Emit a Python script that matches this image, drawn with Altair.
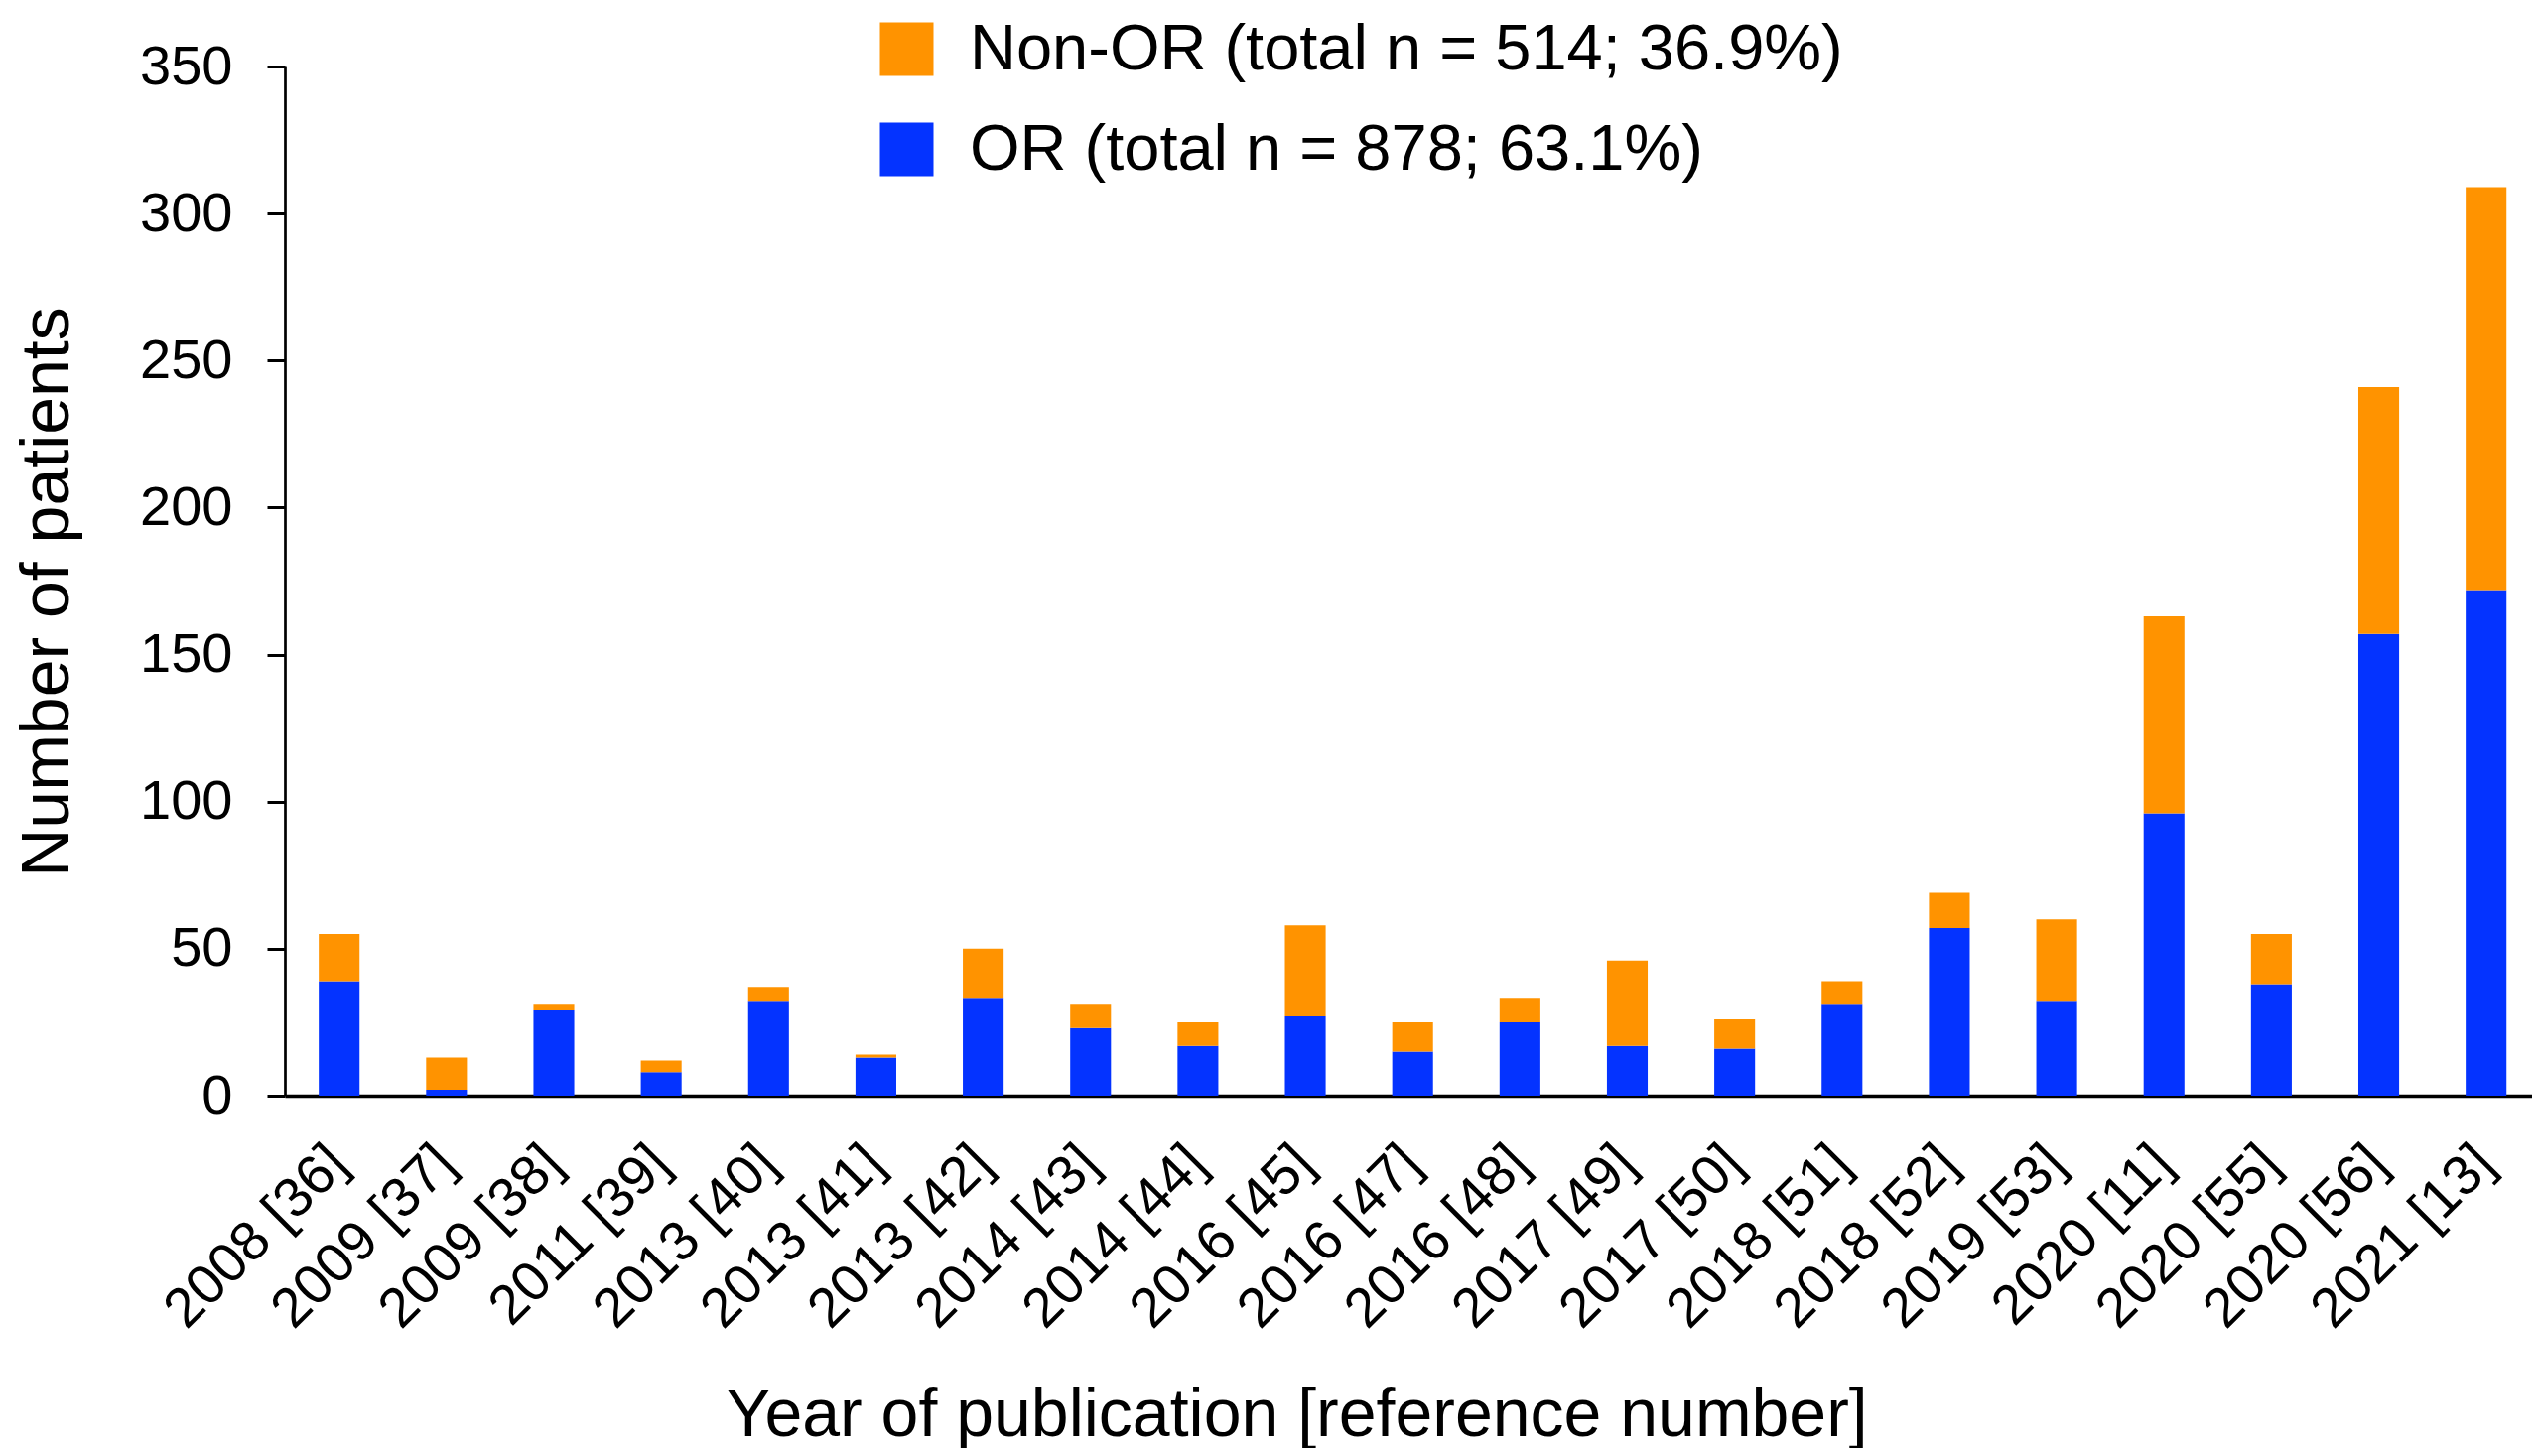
import altair as alt
import pandas as pd

labels = ["2008 [36]", "2009 [37]", "2009 [38]", "2011 [39]", "2013 [40]", "2013 [41]",
          "2013 [42]", "2014 [43]", "2014 [44]", "2016 [45]", "2016 [47]", "2016 [48]",
          "2017 [49]", "2017 [50]", "2018 [51]", "2018 [52]", "2019 [53]", "2020 [11]",
          "2020 [55]", "2020 [56]", "2021 [13]"]
or_vals = [39, 2, 29, 8, 32, 13, 33, 23, 17, 27, 15, 25, 17, 16, 31, 57, 32, 96, 38, 157, 172]
non_or_vals = [16, 11, 2, 4, 5, 1, 17, 8, 8, 31, 10, 8, 29, 10, 8, 12, 28, 67, 17, 84, 137]

series_names = ["Non-OR (total n = 514; 36.9%)", "OR (total n = 878; 63.1%)"]
series_colors = ["#FF9300", "#0433FF"]
y_ticks = [0, 50, 100, 150, 200, 250, 300, 350]

rows = []
for lab, o, n in zip(labels, or_vals, non_or_vals):
    rows.append({"label": lab, "series": series_names[1], "value": o, "ord": 0})
    rows.append({"label": lab, "series": series_names[0], "value": n, "ord": 1})
df = pd.DataFrame(rows)

FONT = "Liberation Sans"

chart = alt.Chart(df).mark_bar().encode(
    x=alt.X("label:N", sort=labels,
            scale=alt.Scale(paddingInner=0.62, paddingOuter=0.277, align=0.57),
            axis=alt.Axis(title="Year of publication [reference number]",
                          labelAngle=-45, ticks=False, labelPadding=40, labelOffset=-20,
                          domainWidth=3.3, domainColor="black",
                          labelFontSize=56, labelColor="black", labelFont=FONT,
                          labelOverlap=False, labelLimit=1000,
                          titleFont=FONT, titleFontSize=68, titleFontWeight="normal",
                          titleColor="black", titleX=1019, titleY=342,
                          titleBaseline="alphabetic")),
    y=alt.Y("value:Q", stack="zero",
            scale=alt.Scale(domain=[0, 350], nice=False),
            axis=alt.Axis(values=y_ticks, title="Number of patients", grid=False,
                          tickSize=18, tickWidth=3, tickColor="black",
                          domainWidth=2.7, domainColor="black",
                          labelPadding=35, labelFontSize=56, labelColor="black",
                          labelFont=FONT,
                          titleFont=FONT, titleFontSize=68, titleFontWeight="normal",
                          titleColor="black", titleX=-219, titleY=529,
                          titleBaseline="alphabetic")),
    color=alt.Color("series:N",
                    scale=alt.Scale(domain=series_names, range=series_colors),
                    legend=alt.Legend(title=None, orient="none", legendX=594, legendY=-50,
                                      symbolType="square", symbolSize=2916,
                                      symbolStrokeWidth=0, labelFontSize=65,
                                      labelFont=FONT, labelColor="black",
                                      rowPadding=35, labelOffset=31, padding=0,
                                      labelLimit=2000)),
    order=alt.Order("ord:Q"),
).properties(
    width=2264, height=1037,
    autosize=alt.AutoSizeParams(type="none"),
    padding={"left": 279, "top": 59, "right": 0, "bottom": 355},
).configure_view(stroke=None)

chart.save("out.html", embed_options={"renderer": "svg", "actions": False})
